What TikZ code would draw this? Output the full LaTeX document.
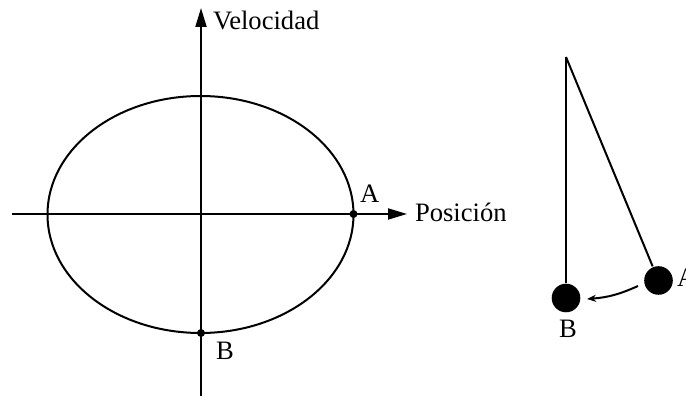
\documentclass[tikz,border=0pt]{standalone}
\usepackage{fontspec}
\setmainfont{Liberation Serif}
\usetikzlibrary{arrows.meta}
\begin{document}
\begin{tikzpicture}[x=0.5pt,y=-0.5pt,line width=1pt,
 lbl/.style={font=\fontsize{13.3}{15}\selectfont,inner sep=0pt,anchor=base west},
 axis/.style={-{Triangle[length=9.5pt,width=5.5pt]}},
 dot/.style={circle,fill,inner sep=0pt,minimum size=4pt},
 ball/.style={circle,fill,inner sep=0pt,minimum size=14.3pt}]
\useasboundingbox (0,0) rectangle (686,400);
% phase diagram
\draw (200.5,214.5) ellipse [x radius=153, y radius=118.5];
\coordinate (xs) at (12,214);
\coordinate (xe) at (407,214);
\coordinate (ys) at (201,396);
\coordinate (ye) at (201,8);
\draw[axis] (xs) -- (xe);
\draw[axis] (ys) -- (ye);
\node[dot] (pA) at (353.5,214) {};
\node[dot] (pB) at (201,333) {};
\node[lbl] (lA) at (359,203) {A};
\node[lbl] (lB) at (215,360) {B};
\node[lbl] (lpos) at (414,222) {Posición};
\node[lbl] (lvel) at (212,30) {Velocidad};
% pendulum
\coordinate (piv) at (566,57);
\node[ball] (bB) at (566,298) {};
\node[ball] (bA) at (658.5,280.5) {};
\draw (piv) -- (bB);
\draw (piv) -- (bA);
\coordinate (as) at (638,286);
\coordinate (ae) at (587,299);
\draw[-{Stealth[length=4.5pt,width=3.5pt]}] (as) to[bend left=10] (ae);
\node[lbl] (lA2) at (676,287) {A};
\node[lbl] (lB2) at (558,338) {B};
\end{tikzpicture}
\end{document}
